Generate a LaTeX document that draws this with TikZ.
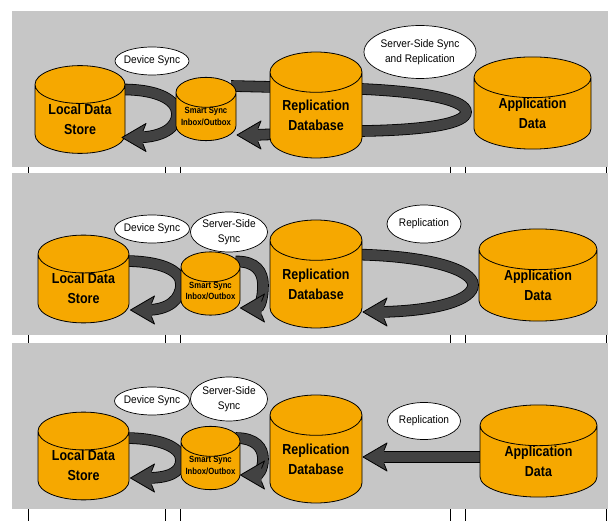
\documentclass[tikz,border=0pt]{standalone}
\usepackage{fontspec}
\setmainfont{Liberation Sans}
\newfontfamily\narrowfont[FakeStretch=0.86]{Liberation Sans}
\newfontfamily\bubblefont[FakeStretch=0.92]{Liberation Sans}
\usetikzlibrary{shapes.geometric, calc}

\definecolor{panelgray}{RGB}{198,198,198}
\definecolor{dborange}{RGB}{246,168,0}
\definecolor{bandgray}{RGB}{66,66,66}

\pgfdeclarelayer{backdrop}
\pgfdeclarelayer{bands}
\pgfsetlayers{backdrop,bands,main}

\tikzset{
    db/.style={cylinder, shape border rotate=90, aspect=0.6, draw, fill=dborange,
        line width=0.8pt, align=center, inner sep=0pt, anchor=shape center,
        font=\narrowfont\bfseries\fontsize{14.5}{20}\selectfont},
    inbox/.style={db, font=\narrowfont\bfseries\fontsize{9}{11.5}\selectfont},
    bubble/.style={ellipse, draw, fill=white, line width=0.7pt, inner xsep=-3pt, inner ysep=0pt,
        align=center, font=\bubblefont\fontsize{11}{15}\selectfont},
    band/.style={draw=black, line width=0.8pt, double=bandgray, double distance=10pt},
    arrowhd/.pic={
        \fill[bandgray] (0,0) -- (24,-14) -- (21,-6.5) -- (21,6.5) -- (24,14) -- cycle;
        \draw[line width=0.8pt, line join=round] (21,-6.5) -- (24,-14) -- (0,0) -- (24,14) -- (21,6.5);
    }
}

\begin{document}
\begin{tikzpicture}[x=1pt, y=-1pt]
    \useasboundingbox (0,0) rectangle (608,521);

    % grey panels and the little ticks between them
    \begin{pgfonlayer}{backdrop}
        \fill[white] (0,0) rectangle (608,521);
        \fill[panelgray] (12,11) rectangle (608,167);
        \fill[panelgray] (12,173) rectangle (608,335);
        \fill[panelgray] (12,343) rectangle (608,509);
        \foreach \x in {28,165,180,450,465,606} {
            \draw[line width=0.8pt] (\x,167) -- (\x,173);
            \draw[line width=0.8pt] (\x,335) -- (\x,343);
            \draw[line width=0.8pt] (\x,509) -- (\x,521);
        }
    \end{pgfonlayer}

    % first row
    \node[db, minimum width=90pt, minimum height=81pt] (lds1) at (80,109.5) {Local Data\\Store};
    \node[inbox, minimum width=60pt, minimum height=62pt] (box1) at (206,109) {Smart Sync\\Inbox/Outbox};
    \node[db, minimum width=92pt, minimum height=106pt] (rdb1) at (316,105) {Replication\\Database};
    \node[db, minimum width=117pt, minimum height=80pt] (app1) at (532.5,103) {Application\\Data};

    \begin{pgfonlayer}{bands}
        \draw[band] ($(lds1.shape center)+(40,-20)$) .. controls (158,89) and (177,100) .. (177,114)
            .. controls (177,128) and (162,137) .. ($(lds1.shape center)+(58,28)$);
        \draw[band] ($(box1.shape center)+(25,-23)$) -- ($(rdb1.shape center)+(46,-16)$)
            .. controls (430,92) and (466,101) .. (466,112)
            .. controls (466,123) and (430,130) .. ($(rdb1.shape center)+(46,26)$)
            -- ($(box1.shape center)+(47,26)$);
    \end{pgfonlayer}
    \pic at ($(lds1.shape center)+(42,28)$) {arrowhd};
    \pic at ($(box1.shape center)+(31,26)$) {arrowhd};

    \node[bubble, minimum width=74pt, minimum height=28pt] (dev1) at (152,61) {Device Sync};
    \node[bubble, minimum width=112pt, minimum height=53pt] (srv1) at (420,52) {Server-Side Sync\\and Replication};

    % second row
    \node[db, minimum width=91pt, minimum height=78pt] (lds2) at (83.5,279) {Local Data\\Store};
    \node[inbox, minimum width=59pt, minimum height=61pt] (box2) at (210.5,283.5) {Smart Sync\\Inbox/Outbox};
    \node[db, minimum width=92pt, minimum height=108pt] (rdb2) at (316,274) {Replication\\Database};
    \node[db, minimum width=118pt, minimum height=80pt] (app2) at (538,275) {Application\\Data};

    \begin{pgfonlayer}{bands}
        \draw[band] ($(lds2.shape center)+(40,-18)$) .. controls (160,261) and (181,270) .. (181,284)
            .. controls (181,300) and (168,310) .. ($(lds2.shape center)+(63,31)$);
        \draw[band] ($(box2.shape center)+(25,-22)$) .. controls (256,261) and (263,272) .. (263,285)
            .. controls (263,298) and (260,308) .. ($(box2.shape center)+(46,24.5)$);
        \draw[band] ($(rdb2.shape center)+(40,-19.5)$) .. controls (430,256) and (473,270) .. (473,285)
            .. controls (473,299) and (440,311) .. ($(rdb2.shape center)+(63,38)$);
    \end{pgfonlayer}
    \pic at ($(lds2.shape center)+(47,31)$) {arrowhd};
    \pic at ($(box2.shape center)+(30,24.5)$) {arrowhd};
    \pic at ($(rdb2.shape center)+(47,38)$) {arrowhd};

    \node[bubble, minimum width=75pt, minimum height=28pt] (dev2) at (152,229) {Device Sync};
    \node[bubble, minimum width=77pt, minimum height=40pt] (srv2) at (229,232) {Server-Side\\Sync};
    \node[bubble, minimum width=74pt, minimum height=38pt] (rep2) at (424,224) {Replication};

    % third row
    \node[db, minimum width=91pt, minimum height=78pt] (lds3) at (83.5,456) {Local Data\\Store};
    \node[inbox, minimum width=59pt, minimum height=60pt] (box3) at (210.5,458) {Smart Sync\\Inbox/Outbox};
    \node[db, minimum width=92pt, minimum height=108pt] (rdb3) at (316,449) {Replication\\Database};
    \node[db, minimum width=117pt, minimum height=82pt] (app3) at (538.5,451) {Application\\Data};

    \begin{pgfonlayer}{bands}
        \draw[band] ($(lds3.shape center)+(40,-18)$) .. controls (160,438) and (181,447) .. (181,460)
            .. controls (181,473) and (168,478) .. ($(lds3.shape center)+(63,22)$);
        \draw[band] ($(box3.shape center)+(25,-20)$) .. controls (256,438) and (263,448) .. (263,459)
            .. controls (263,470) and (258,475) .. ($(box3.shape center)+(46,17)$);
        \draw[band] ($(app3.shape center)+(0,6)$) -- ($(rdb3.shape center)+(63,8)$);
    \end{pgfonlayer}
    \pic at ($(lds3.shape center)+(47,22)$) {arrowhd};
    \pic at ($(box3.shape center)+(30,17)$) {arrowhd};
    \pic at ($(rdb3.shape center)+(47,8)$) {arrowhd};

    \node[bubble, minimum width=75pt, minimum height=28pt] (dev3) at (152,401) {Device Sync};
    \node[bubble, minimum width=77pt, minimum height=44pt] (srv3) at (229,399) {Server-Side\\Sync};
    \node[bubble, minimum width=73pt, minimum height=37pt] (rep3) at (424,421) {Replication};
\end{tikzpicture}
\end{document}
